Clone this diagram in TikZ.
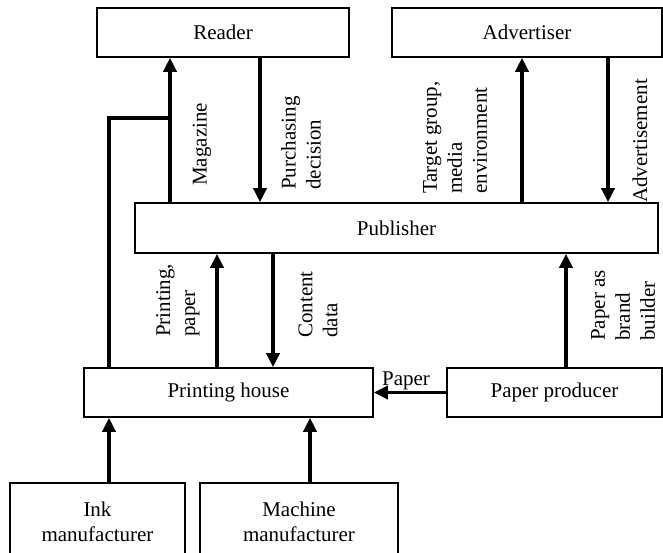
\documentclass[tikz,border=0pt]{standalone}
\usepackage{fontspec}
\setmainfont{Liberation Serif}
\usetikzlibrary{arrows.meta}
\begin{document}
\begin{tikzpicture}[x=1pt,y=-1pt,
  box/.style={draw,line width=1.6pt,rectangle,inner sep=0pt,align=center,
              font=\fontsize{21}{25}\selectfont},
  arr/.style={line width=3.5pt,-{Triangle[width=13pt,length=14pt]}},
  wire/.style={line width=3.5pt},
  lbl/.style={rotate=90,anchor=west,inner sep=0pt,align=left,
              font=\fontsize{21}{25}\selectfont}]
\useasboundingbox (0,0) rectangle (663,553);
\clip (0,0) rectangle (663,553);

% actors
\node[box,minimum width=252pt,minimum height=49pt] (reader) at (223,32.5) {Reader};
\node[box,minimum width=270pt,minimum height=49pt] (adv) at (527,32.5) {Advertiser};
\node[box,minimum width=523pt,minimum height=50pt] (pub) at (396.5,228) {Publisher};
\node[box,minimum width=289pt,minimum height=49pt] (ph) at (228.5,392.5) {Printing house};
\node[box,minimum width=215pt,minimum height=49pt] (pp) at (554.5,392.5) {Paper producer};
\node[box,minimum width=175pt,minimum height=78pt] (ink) at (97.5,522) {Ink\\manufacturer};
\node[box,minimum width=198pt,minimum height=78pt] (mach) at (299,522) {Machine\\manufacturer};

% junction of the magazine flow
\coordinate (mj) at (170,118);
\coordinate (branch) at (109,118);

% flows between publisher and reader / advertiser
\draw[arr] (pub.north -| mj) -- (reader.south -| mj);
\draw[wire] (ph.north -| branch) |- (mj);
\draw[arr] (reader.south -| 260,0) -- (pub.north -| 260,0);
\draw[arr] (pub.north -| 522,0) -- (adv.south -| 522,0);
\draw[arr] (adv.south -| 608,0) -- (pub.north -| 608,0);

% flows between publisher and suppliers
\draw[arr] (ph.north -| 217,0) -- (pub.south -| 217,0);
\draw[arr] (pub.south -| 273,0) -- (ph.north -| 273,0);
\draw[arr] (pp.north -| 566,0) -- (pub.south -| 566,0);
\draw[arr] (pp.west) -- (ph.east);
\draw[arr] (ink.north -| 109,0) -- (ph.south -| 109,0);
\draw[arr] (mach.north -| 310,0) -- (ph.south -| 310,0);

% labels
\node[lbl] (lmag) at (202,186) {Magazine};
\node[lbl] (lpur) at (301,190) {Purchasing\\decision};
\node[lbl] (ltg) at (455,194) {Target group,\\media\\environment};
\node[lbl] (lad) at (640,203) {Advertisement};
\node[lbl] (lpr) at (178,337) {Printing,\\paper};
\node[lbl] (lcd) at (318,338) {Content\\data};
\node[lbl] (lpb) at (623,341) {Paper as\\brand\\builder};
\node[anchor=base,inner sep=0pt,font=\fontsize{21}{25}\selectfont] (lpap) at (406,385) {Paper};
\end{tikzpicture}
\end{document}
